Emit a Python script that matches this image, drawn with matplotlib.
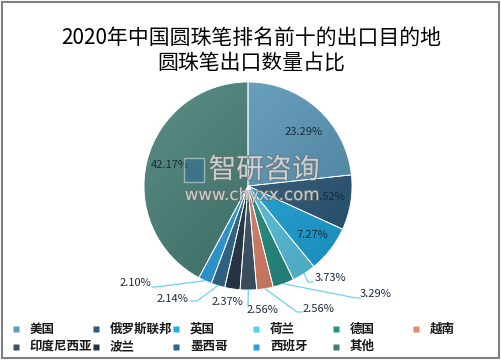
import numpy as np
import matplotlib
matplotlib.use("Agg")
import matplotlib.pyplot as plt
from matplotlib.colors import to_rgb
from matplotlib.patches import Rectangle
import matplotlib.patheffects as pe

plt.rcParams['font.family'] = ['Noto Sans CJK SC', 'DejaVu Sans']

# data
countries = ['美国', '俄罗斯联邦', '英国', '荷兰', '德国', '越南',
             '印度尼西亚', '波兰', '墨西哥', '西班牙', '其他']
shares = [23.29, 8.52, 7.27, 3.73, 3.29, 2.56, 2.56, 2.37, 2.14, 2.10, 42.17]
colors = ['#5b9dc0', '#2b5c7e', '#1caee8', '#5ccff0', '#21958a', '#ea866c',
          '#3a5467', '#1f3244', '#29678f', '#27a0e6', '#3f7b71']

W, H = 502, 361


def px(x, y):
    # pixel (top-left origin) -> data coords
    return x, H - y


# label layout in pixels: (x, y, ha, leader points)
label_layout = [
    (304, 132, 'center', None),
    (329, 197, 'center', None),
    (312, 235, 'center', None),
    (315, 278, 'left', [(308, 282), (313, 282)]),
    (360, 294, 'left', [(356, 298), (360, 298)]),
    (303, 309, 'left', [(297, 312), (302, 312)]),
    (247, 310, 'left', [(248, 305)]),
    (227, 302, 'center', None),
    (188, 299, 'right', [(197, 301), (191, 301)]),
    (151, 283, 'right', [(156, 287), (152, 287)]),
    (170, 165, 'center', None),
]

fig = plt.figure(figsize=(W / 100, H / 100), dpi=100)
ax = fig.add_axes([0, 0, 1, 1])

cx, cy = px(248, 186)
R = 104
wedges, _ = ax.pie(shares, colors=colors, startangle=90, counterclock=False,
                   center=(cx, cy), radius=R,
                   wedgeprops=dict(linewidth=0.6, edgecolor='white'))
ax.set_aspect('equal')
ax.axis('off')

# gradient shading clipped to each wedge
n = 200
gx, gy = np.meshgrid(np.linspace(0, 1, n), np.linspace(0, 1, n))
t = ((gx + (1 - gy)) / 2)[..., None]
for w, c in zip(wedges, colors):
    base = np.array(to_rgb(c))
    light = base + (1 - base) * 0.15
    dark = base * 0.78
    img = light * (1 - t) + dark * t
    im = ax.imshow(img, extent=(cx - R, cx + R, cy - R, cy + R), origin='lower',
                   zorder=1, interpolation='bilinear')
    im.set_clip_path(w)
    w.set_facecolor('none')
    w.set_zorder(2)
ax.set_xlim(0, W)
ax.set_ylim(0, H)

# percentage labels and leader lines
line_c = '#6fd0f5'
for w, v, (lx, ly, ha, pts) in zip(wedges, shares, label_layout):
    if pts is not None:
        mid = np.deg2rad((w.theta1 + w.theta2) / 2)
        xs = [cx + R * np.cos(mid)] + [p[0] for p in pts]
        ys = [cy + R * np.sin(mid)] + [H - p[1] for p in pts]
        ax.plot(xs, ys, color=line_c, lw=0.9, zorder=3)
    ax.text(*px(lx, ly), f'{v:.2f}%', ha=ha, va='center', fontsize=8,
            color='#1c2b3e', zorder=5)

# watermark
wm = [pe.withStroke(linewidth=1.5, foreground='#6a6a6a', alpha=0.6)]
ax.text(*px(264, 170), '智研咨询', ha='center', va='center', fontsize=20,
        color='white', alpha=0.55, zorder=6, path_effects=wm)
ax.text(*px(252, 195), 'www.chyxx.com', ha='center', va='center', fontsize=12,
        family='DejaVu Sans', color='white', alpha=0.55, zorder=6, path_effects=wm)
ax.add_patch(Rectangle(px(184, 182), 20, 24, facecolor='#2b6a9c', alpha=0.45,
                       edgecolor='white', lw=1, zorder=6))

# title
ax.text(W / 2, H - 38, '2020年中国圆珠笔排名前十的出口目的地', ha='center',
        va='center', fontsize=15, color='black')
ax.text(W / 2, H - 63, '圆珠笔出口数量占比', ha='center', va='center',
        fontsize=15, color='black')

# legend, 6 per row
for i, (name, c) in enumerate(zip(countries, colors)):
    row, col = divmod(i, 6)
    mx = 16 + 80 * col
    my = 329 + 17.5 * row
    ax.plot(*px(mx, my), marker='s', ms=4, color=c, mec='none')
    ax.text(*px(mx + 14, my), name, ha='left', va='center', fontsize=9,
            fontweight='bold', color='#1a1a1a')

# frame
ax.add_patch(Rectangle((2, 3), 497, 356, facecolor='none', edgecolor='#808080',
                       lw=1.5, zorder=10))

fig.savefig('out.png', dpi=100)
